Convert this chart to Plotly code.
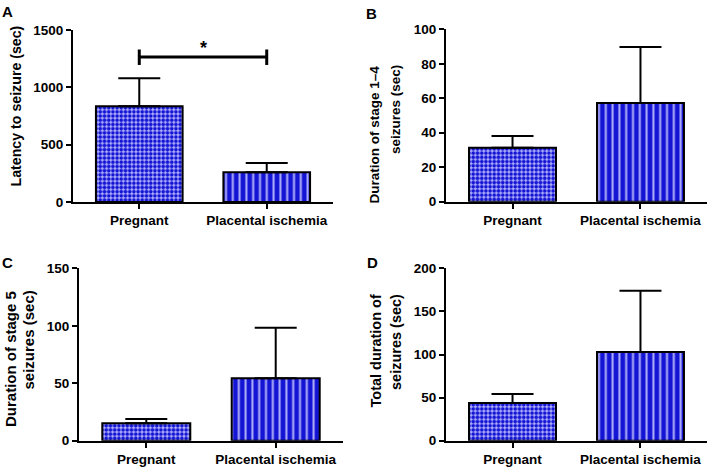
import plotly.graph_objects as go

W, H = 709, 469

categories = ["Pregnant", "Placental ischemia"]

latency_mean = [835, 260]
latency_sem = [245, 80]

stage14_mean = [31.3, 57.3]
stage14_sem = [6.8, 32.5]

stage5_mean = [15.1, 54.3]
stage5_sem = [3.8, 44.0]

total_mean = [43.7, 102.9]
total_sem = [10.5, 71.2]

panel_letters = ["A", "B", "C", "D"]
y_titles = [
    ["Latency to seizure (sec)"],
    ["Duration of stage 1\u20134", "seizures (sec)"],
    ["Duration of stage 5", "seizures (sec)"],
    ["Total duration of", "seizures (sec)"],
]
y_ranges = [[0, 1500], [0, 100], [0, 150], [0, 200]]
y_dticks = [500, 20, 50, 50]

sig_label = "*"
sig_y = 1265
sig_cap_low = 1195
sig_cap_high = 1330
sig_star_y = 1340

DARK = "#1414d4"
LIGHT = "#b0b0fa"
FONT = "Liberation Sans"


def fx(px):
    return px / W


def fy(py):
    return 1 - py / H


# plot-area boxes in pixels: (x0, x1, ytop, ybottom)
boxes = [
    (73, 333, 30, 202),
    (446, 707, 29.3, 201.7),
    (79, 343, 268.3, 440.7),
    (446, 707, 268.3, 440.7),
]

data_sets = [
    (latency_mean, latency_sem),
    (stage14_mean, stage14_sem),
    (stage5_mean, stage5_sem),
    (total_mean, total_sem),
]

fig = go.Figure()

for i, (means, sems) in enumerate(data_sets):
    n = i + 1
    xa = "x" if n == 1 else f"x{n}"
    ya = "y" if n == 1 else f"y{n}"
    patterns = [
        dict(shape=".", size=4.2, solidity=0.58, fgcolor=DARK, bgcolor=LIGHT, fillmode="replace"),
        dict(shape="|", size=6.8, solidity=0.3, fgcolor=LIGHT, bgcolor=DARK, fillmode="replace"),
    ]
    for j in range(2):
        fig.add_trace(go.Bar(
            x=[categories[j]], y=[means[j]], width=0.68,
            marker=dict(color=DARK, pattern=patterns[j], line=dict(color="black", width=2)),
            error_y=dict(type="data", symmetric=False, array=[sems[j]], arrayminus=[0],
                         color="black", thickness=2, width=21),
            xaxis=xa, yaxis=ya, showlegend=False, hoverinfo="skip",
        ))

layout = dict(
    width=W, height=H, margin=dict(l=0, r=0, t=0, b=0),
    paper_bgcolor="white", plot_bgcolor="white",
    font=dict(family=FONT, color="black"),
    bargap=0,
)

annotations = []
shapes = []
for i, (x0, x1, yt, yb) in enumerate(boxes):
    n = i + 1
    xk = "xaxis" if n == 1 else f"xaxis{n}"
    yk = "yaxis" if n == 1 else f"yaxis{n}"
    ya = "y" if n == 1 else f"y{n}"
    layout[xk] = dict(
        domain=[fx(x0), fx(x1)], anchor=ya, type="category",
        range=[-0.52, 1.52], showline=True, linecolor="black", linewidth=2,
        ticks="outside", ticklen=5, tickwidth=2, tickcolor="black",
        showgrid=False, zeroline=False, automargin=False,
        tickfont=dict(family=FONT, size=13.5, color="black", weight="bold"),
    )
    layout[yk] = dict(
        domain=[fy(yb), fy(yt)], anchor="x" if n == 1 else f"x{n}",
        range=y_ranges[i], dtick=y_dticks[i], tick0=0,
        showline=True, linecolor="black", linewidth=2,
        ticks="outside", ticklen=5, tickwidth=2, tickcolor="black",
        showgrid=False, zeroline=False, automargin=False,
        tickfont=dict(family=FONT, size=13.5, color="black", weight="bold"),
    )

# panel letters
letter_pos = [(7, 12), (371, 13), (7, 262), (372, 262)]
for L, (px, py) in zip(panel_letters, letter_pos):
    annotations.append(dict(
        x=fx(px), y=fy(py), xref="paper", yref="paper", text=f"<b>{L}</b>",
        showarrow=False, xanchor="center", yanchor="middle",
        font=dict(family=FONT, size=15, color="black"),
    ))

# y titles (each line separately, top aligned)
title_specs = [
    ([16], 24, 14.2),
    ([374.5, 395.5], 63, 13.5),
    ([10, 28], 289, 15),
    ([375, 396], 292, 14.5),
]
for lines, (xs, top, size) in zip(y_titles, title_specs):
    for line, xc in zip(lines, xs):
        annotations.append(dict(
            x=fx(xc), y=fy(top), xref="paper", yref="paper", text=f"<b>{line}</b>",
            showarrow=False, textangle=-90, xanchor="center", yanchor="top",
            font=dict(family=FONT, size=size, color="black"),
        ))

# significance bracket on panel A
shapes.append(dict(type="line", xref="x", yref="y", x0=categories[0], x1=categories[1],
                   y0=sig_y, y1=sig_y, line=dict(color="black", width=3)))
for c in categories:
    shapes.append(dict(type="line", xref="x", yref="y", x0=c, x1=c,
                       y0=sig_cap_low, y1=sig_cap_high, line=dict(color="black", width=3)))
annotations.append(dict(
    x=0.5, y=sig_star_y, xref="x", yref="y", text=f"<b>{sig_label}</b>", showarrow=False,
    xanchor="center", yanchor="middle", font=dict(family=FONT, size=18, color="black"),
))

layout["annotations"] = annotations
layout["shapes"] = shapes
fig.update_layout(**layout)
fig.write_html(
    "out.html",
    config={"displayModeBar": False, "staticPlot": True},
    post_script="document.body.style.margin='0';document.body.style.overflow='hidden';",
)
